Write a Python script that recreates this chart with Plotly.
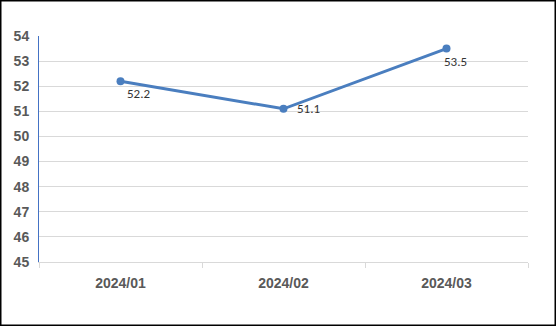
import plotly.graph_objects as go

categories = ["2024/01", "2024/02", "2024/03"]
values = [52.2, 51.1, 53.5]
labels = ["52.2", "51.1", "53.5"]
label_dx = [4, 11, -5]
label_dy = [-12, 0, -13]

W, H = 556, 326
L, R, T, B = 39, 28, 36, 64
pw, ph = W - L - R, H - T - B

fig = go.Figure()
fig.add_trace(go.Scatter(
    x=categories, y=values, mode="lines+markers",
    line=dict(color="#4A7EBF", width=3),
    marker=dict(color="#4A7EBF", size=8),
    cliponaxis=False, showlegend=False,
))

annotations = [
    dict(x=c, y=v, text=t, xref="x", yref="y", showarrow=False,
         xanchor="left", yanchor="middle", xshift=dx, yshift=dy,
         font=dict(family="Carlito, Calibri, Liberation Sans, sans-serif", size=13, color="#333333"))
    for c, v, t, dx, dy in zip(categories, values, labels, label_dx, label_dy)
]

fig.update_layout(
    width=W, height=H,
    margin=dict(l=L, r=R, t=T, b=B),
    paper_bgcolor="white", plot_bgcolor="white",
    font=dict(family="Liberation Sans, Arial, sans-serif"),
    annotations=annotations,
    xaxis=dict(
        type="category", range=[-0.5, 2.5], tickson="boundaries",
        ticks="outside", ticklen=5, tickcolor="#D9D9D9",
        showline=True, linecolor="#D9D9D9", linewidth=1,
        showgrid=False, zeroline=False,
        tickfont=dict(size=14, color="#595959", family="Liberation Sans, Arial, sans-serif", weight="bold"),
        ticklabelstandoff=8,
    ),
    yaxis=dict(
        range=[45, 54], dtick=1, showgrid=True, gridcolor="#D9D9D9", gridwidth=1,
        showline=True, linecolor="#4472C4", linewidth=1, zeroline=False,
        ticks="", ticklabelstandoff=6,
        tickfont=dict(size=14, color="#595959", family="Liberation Sans, Arial, sans-serif", weight="bold"),
    ),
    shapes=[dict(
        type="rect", xref="paper", yref="paper",
        x0=-(L - 0.75) / pw, x1=1 + (R - 0.75) / pw,
        y0=-(B - 0.75) / ph, y1=1 + (T - 0.75) / ph,
        line=dict(color="black", width=1.5), fillcolor="rgba(0,0,0,0)", layer="above",
    )],
)

fig.write_html("out.html")
